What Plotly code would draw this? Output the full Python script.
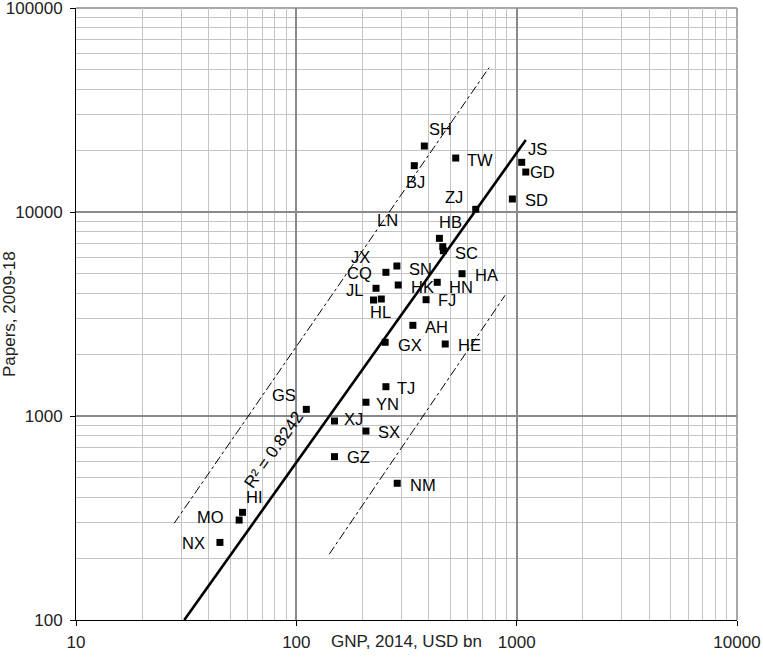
import numpy as np
import plotly.graph_objects as go

# ── data ───────────────────────────────────────────────────────────────────────
CODES = ["SH", "BJ", "TW", "JS", "GD", "SD", "ZJ", "HB", "LN", "SC",
         "SN", "JX", "CQ", "JL", "HL", "HK", "HN", "HA", "FJ", "AH",
         "GX", "HE", "TJ", "YN", "GS", "XJ", "SX", "GZ", "NM", "HI",
         "MO", "NX"]
GNP = [381, 343, 529, 1054, 1100, 956, 652, 446, 462, 465,
       286, 255, 230, 224, 243, 290, 436, 565, 388, 338,
       253, 474, 255, 207, 111, 149, 207, 149, 287, 57,
       55, 45]
PAPERS = [21060, 16870, 18390, 17520, 15700, 11580, 10310, 7430, 6760, 6460,
          5436, 5062, 4227, 3703, 3745, 4387, 4523, 4983, 3716, 2783,
          2298, 2254, 1392, 1168, 1078, 945, 844, 632, 468, 337,
          309, 240]

TREND_X = [31, 1100]
TREND_Y = [100, 22540]
UPPER_X = [27.9, 749]
UPPER_Y = [298, 50960]
LOWER_X = [141, 886]
LOWER_Y = [210, 3906]
R2_TEXT = "R² = 0.8242"

X_TICKS = [10, 100, 1000, 10000]
X_LABELS = ["10", "100", "1000", "10000"]
Y_TICKS = [100, 1000, 10000, 100000]
Y_LABELS = ["100", "1000", "10000", "100000"]

# label offsets in pixels (right, up) from each marker
LABEL_SHIFT = {
    "SH": (16, 17), "BJ": (1, -16), "TW": (24, -2), "JS": (16, 13),
    "GD": (17, 0), "SD": (24, -1), "ZJ": (-22, 12), "HB": (11, 16),
    "LN": (-55, 27), "SC": (23, -2), "SN": (24, -3), "JX": (-25, 15),
    "CQ": (-17, 15), "JL": (-19, 10), "HL": (-1, -13), "HK": (24, -2),
    "HN": (24, -5), "HA": (24, -1), "FJ": (21, 0), "AH": (24, -2),
    "GX": (25, -3), "HE": (24, -1), "TJ": (20, -1), "YN": (22, -2),
    "GS": (-22, 14), "XJ": (19, 2), "SX": (23, -1), "GZ": (24, 0),
    "NM": (26, -2), "HI": (12, 15), "MO": (-29, 3), "NX": (-26, -1),
}

FONT = "Liberation Sans, Arial, sans-serif"
MAJOR = "#8a8a8a"

fig = go.Figure()

for xs, ys, dash, w in [(UPPER_X, UPPER_Y, "dashdot", 1),
                        (LOWER_X, LOWER_Y, "dashdot", 1),
                        (TREND_X, TREND_Y, "solid", 2.6)]:
    fig.add_trace(go.Scatter(x=xs, y=ys, mode="lines",
                             line=dict(color="black", width=w, dash=dash),
                             showlegend=False, hoverinfo="skip"))

fig.add_trace(go.Scatter(
    x=GNP, y=PAPERS, mode="markers", text=CODES,
    marker=dict(symbol="square", size=7, color="black"),
    showlegend=False,
))

annots = []
for c, gx, py in zip(CODES, GNP, PAPERS):
    dx, dy = LABEL_SHIFT[c]
    annots.append(dict(x=np.log10(gx), y=np.log10(py), text=c, showarrow=False,
                       xshift=dx, yshift=dy, xanchor="center", yanchor="middle",
                       font=dict(size=16.5, color="black", family=FONT)))

# R² label along the trend line
annots.append(dict(x=np.log10(76), y=np.log10(681), text=R2_TEXT, showarrow=False,
                   xshift=3, textangle=-55,
                   font=dict(size=17, color="black", family=FONT)))

# axis titles (placed by hand, as in the original)
annots.append(dict(x=0, y=0.5, xref="paper", yref="paper", xshift=-67,
                   xanchor="center", yanchor="middle",
                   text="Papers, 2009-18", textangle=-90, showarrow=False,
                   font=dict(size=17, color="#222", family=FONT)))
annots.append(dict(x=0.5, y=0, xref="paper", yref="paper", yshift=-21,
                   xanchor="center", yanchor="middle",
                   text="GNP, 2014, USD bn", showarrow=False,
                   font=dict(size=17, color="#222", family=FONT)))

axis_common = dict(
    type="log", showline=True, linecolor="black", linewidth=1,
    ticks="outside", ticklen=5, tickcolor="black",
    showgrid=True, gridcolor=MAJOR, gridwidth=1.5,
    minor=dict(dtick="D1", showgrid=True, gridcolor="#c4c4c4", gridwidth=1, ticks=""),
    tickfont=dict(size=17, color="#222", family=FONT),
    ticklabeloverflow="allow", automargin=False,
    zeroline=False,
)

fig.update_xaxes(range=[1, 4], tickvals=X_TICKS, ticktext=X_LABELS,
                 ticklabelstandoff=2, **axis_common)
fig.update_yaxes(range=[2, 5], tickvals=Y_TICKS, ticktext=Y_LABELS,
                 ticklabelstandoff=4, **axis_common)

# top / right frame in major grid colour
fig.add_shape(type="line", xref="paper", yref="paper", x0=0, x1=1, y0=1, y1=1,
              line=dict(color=MAJOR, width=1.5), layer="below")
fig.add_shape(type="line", xref="paper", yref="paper", x0=1, x1=1, y0=0, y1=1,
              line=dict(color=MAJOR, width=1.5), layer="below")

fig.update_layout(
    width=763, height=661,
    margin=dict(l=76, r=26, t=8, b=41, autoexpand=False),
    plot_bgcolor="white", paper_bgcolor="white",
    annotations=annots,
    font=dict(family=FONT),
)

fig.write_html("out.html", config={"displayModeBar": False},
               post_script="document.body.style.margin='0';")
